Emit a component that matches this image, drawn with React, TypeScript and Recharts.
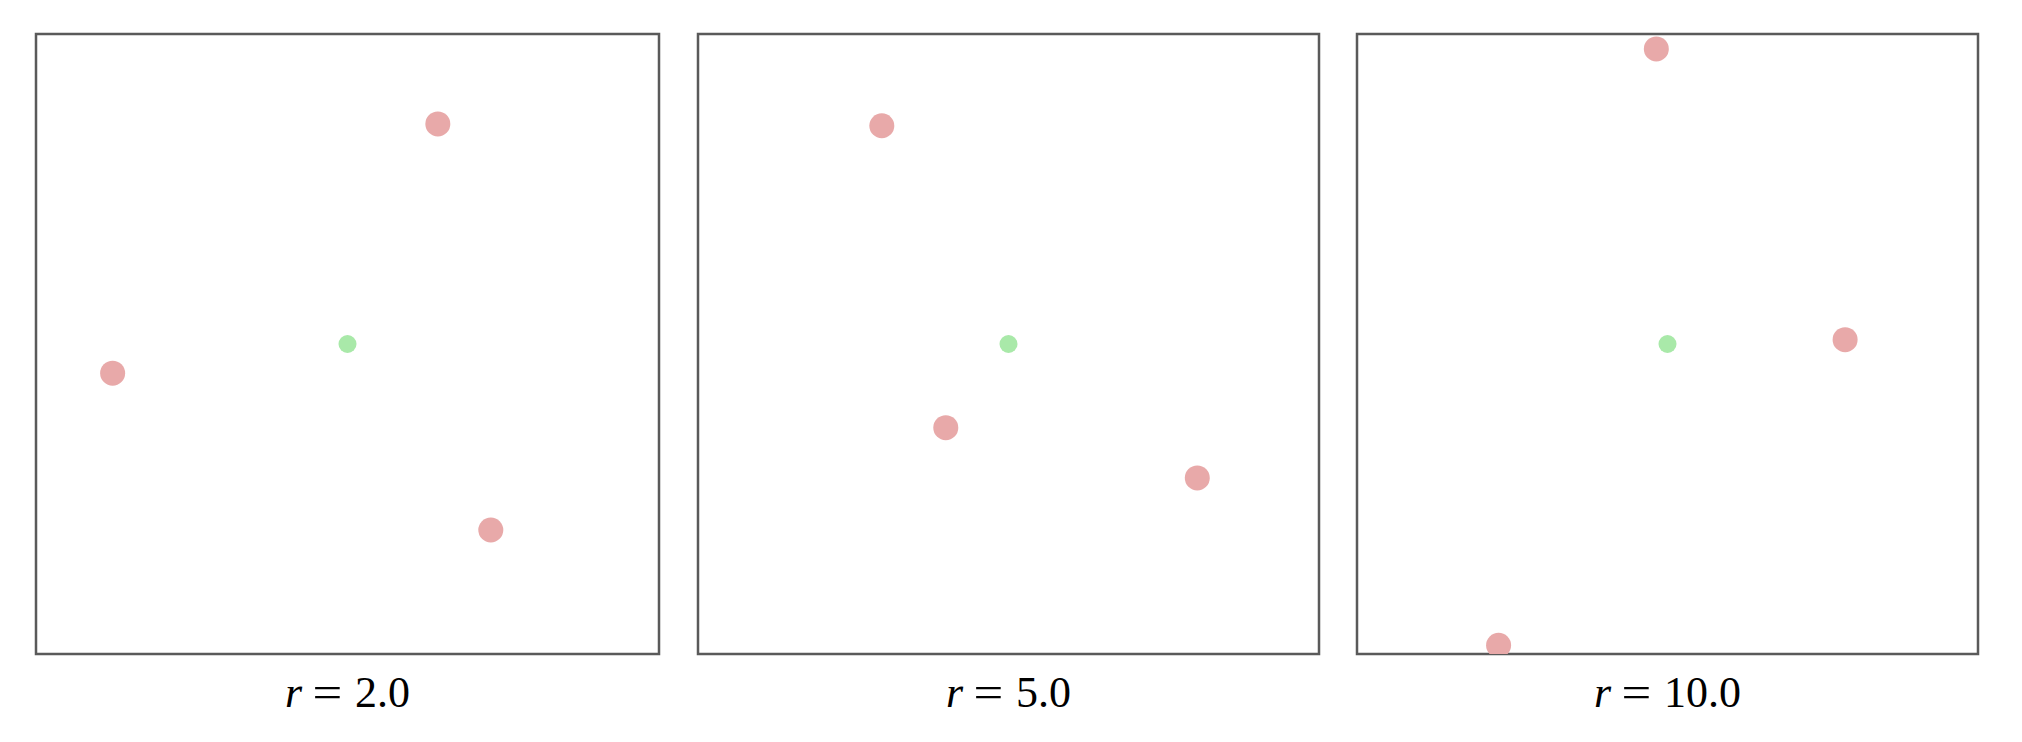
import { ScatterChart, Scatter, XAxis, YAxis, ReferenceArea } from 'recharts';

// radius labels for the three panels
const radiusLabels = ['2.0', '5.0', '10.0'];

// positions in axis units, domain [-1, 1] on both axes
const redR2 = [{ x: 0.29, y: 0.71 }, { x: -0.754, y: -0.094 }, { x: 0.46, y: -0.6 }];
const redR5 = [{ x: -0.408, y: 0.704 }, { x: -0.202, y: -0.27 }, { x: 0.608, y: -0.432 }];
const redR10 = [{ x: -0.036, y: 0.952 }, { x: 0.572, y: 0.014 }, { x: -0.544, y: -0.972 }];

const greenR2 = [{ x: 0, y: 0 }];
const greenR5 = [{ x: 0, y: 0 }];
const greenR10 = [{ x: 0, y: 0 }];

const redSets = [redR2, redR5, redR10];
const greenSets = [greenR2, greenR5, greenR10];

const WIDTHS = [623, 621, 621];
const PANEL_H = 620;
const PAD = 2;
const LEFTS = [36, 698, 1357];
const TOP = 34;

const dot = (r: number, fill: string) => (props: any) =>
  <circle cx={props.cx} cy={props.cy} r={r} fill={fill} />;

const Panel: React.FC<{ i: number }> = ({ i }) => (
  <div style={{ position: 'absolute', left: LEFTS[i] - PAD, top: TOP - PAD }}>
    <ScatterChart width={WIDTHS[i] + PAD * 2} height={PANEL_H + PAD * 2}
      margin={{ top: PAD, right: PAD, bottom: PAD, left: PAD }}>
      <XAxis type="number" dataKey="x" domain={[-1, 1]} allowDataOverflow hide />
      <YAxis type="number" dataKey="y" domain={[-1, 1]} allowDataOverflow hide />
      <Scatter data={redSets[i]} shape={dot(12.5, '#e8a9a9')} isAnimationActive={false} />
      <Scatter data={greenSets[i]} shape={dot(9, '#a9e9a9')} isAnimationActive={false} />
      <ReferenceArea x1={-1} x2={1} y1={-1} y2={1} fill="none" fillOpacity={0}
        stroke="#5a5a5a" strokeWidth={2.5} strokeOpacity={1} />
    </ScatterChart>
    <div style={{
      position: 'absolute', left: 0, width: WIDTHS[i] + PAD * 2, top: 636,
      textAlign: 'center', fontFamily: '"Liberation Serif", "Times New Roman", serif',
      fontSize: 44, lineHeight: '50px', color: '#000', whiteSpace: 'pre',
    }}>
      <i>r</i>
      <span style={{ display: 'inline-block', margin: '0 15px 0 13px', transform: 'scaleX(1.2)' }}>=</span>
      {radiusLabels[i]}
    </div>
  </div>
);

const App = () => (
  <div style={{ position: 'absolute', left: 0, top: 0, width: 2022, height: 742, background: '#fff' }}>
    {radiusLabels.map((_, i) => <Panel key={i} i={i} />)}
  </div>
);

export default App;
